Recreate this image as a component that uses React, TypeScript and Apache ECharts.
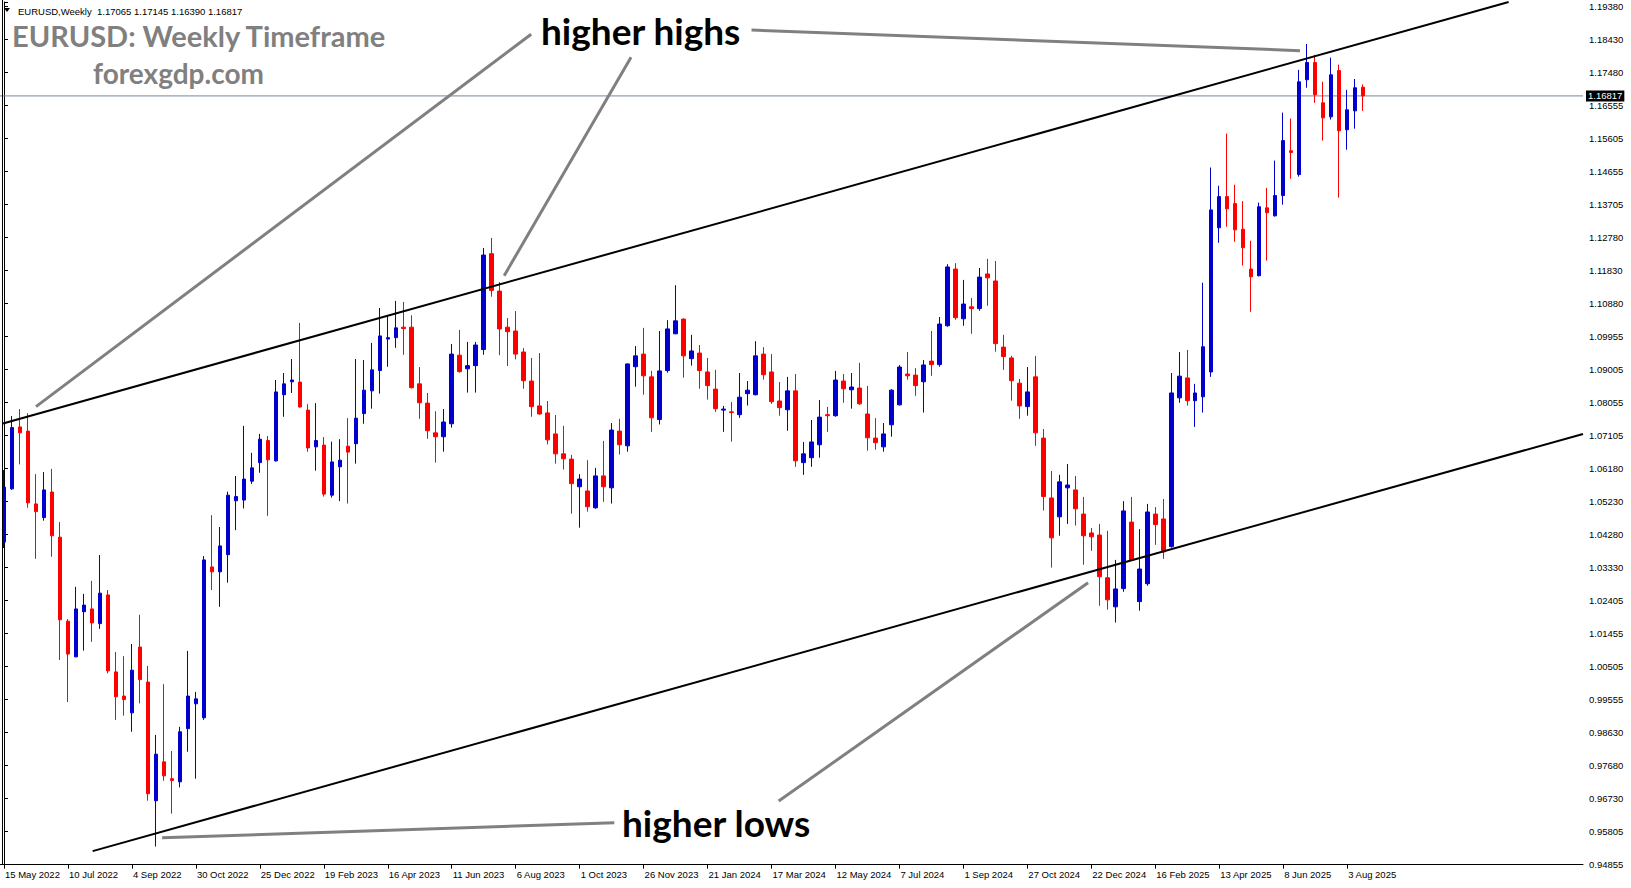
import React, { useEffect, useRef } from 'react';
import * as echarts from 'echarts';

// Weekly OHLC values (index 0 = week of 15 May 2022)
const weeklyOpen = [
  1.0407, 1.0559, 1.0736, 1.0724, 1.0516, 1.0477, 1.0550, 1.0421, 1.0181, 1.0079,
  1.0208, 1.0216, 1.0174, 1.0256, 1.0036, 0.9967, 0.9919, 1.0107, 1.0007, 0.9668,
  0.9779, 0.9731, 0.9722, 0.9874, 0.9945, 0.9905, 1.0336, 1.0322, 1.0371, 1.0525,
  1.0527, 1.0581, 1.0634, 1.0697, 1.0639, 1.0828, 1.0865, 1.0864, 1.0784, 1.0679,
  1.0684, 1.0541, 1.0622, 1.0681, 1.0688, 1.0774, 1.0839, 1.0897, 1.0987, 1.0991,
  1.1021, 1.1021, 1.0859, 1.0804, 1.0719, 1.0708, 1.0745, 1.0941, 1.0902, 1.0911,
  1.0957, 1.1231, 1.1124, 1.1021, 1.1010, 1.0950, 1.0867, 1.0796, 1.0776, 1.0716,
  1.0659, 1.0644, 1.0565, 1.0553, 1.0505, 1.0596, 1.0562, 1.0724, 1.0682, 1.0908,
  1.0944, 1.0879, 1.0757, 1.0897, 1.1002, 1.1044, 1.0931, 1.0947, 1.0893, 1.0844,
  1.0784, 1.0779, 1.0771, 1.0831, 1.0828, 1.0944, 1.0893, 1.0810, 1.0785, 1.0839,
  1.0634, 1.0648, 1.0685, 1.0771, 1.0768, 1.0867, 1.0842, 1.0847, 1.0773, 1.0704,
  1.0679, 1.0742, 1.0799, 1.0887, 1.0884, 1.0865, 1.0924, 1.0914, 1.1025, 1.1187,
  1.1045, 1.1079, 1.1074, 1.1173, 1.1153, 1.0964, 1.0933, 1.0861, 1.0794, 1.0879,
  1.0704, 1.0533, 1.0479, 1.0562, 1.0556, 1.0487, 1.0433, 1.0427, 1.0305, 1.0222,
  1.0274, 1.0464, 1.0237, 1.0288, 1.0487, 1.0473, 1.0394, 1.0819, 1.0876, 1.0811,
  1.0822, 1.0893, 1.1305, 1.1394, 1.1374, 1.1301, 1.1187, 1.1168, 1.1362, 1.1339,
  1.1397, 1.1525, 1.1457, 1.1728, 1.1777, 1.1662, 1.1622, 1.1754, 1.1585, 1.1639,
  1.17065,
];
const weeklyClose = [
  1.0564, 1.0734, 1.0719, 1.0519, 1.0494, 1.0556, 1.0425, 1.0185, 1.0087, 1.0216,
  1.0227, 1.0176, 1.0261, 1.0039, 0.9965, 0.9957, 1.0041, 1.0014, 0.9688, 0.9801,
  0.9739, 0.9726, 0.9865, 0.9967, 0.9959, 1.0356, 1.0322, 1.0396, 1.0541, 1.0537,
  1.0587, 1.0619, 1.0701, 1.0642, 1.0836, 1.0859, 1.0870, 1.0793, 1.0676, 1.0697,
  1.0544, 1.0636, 1.0641, 1.0664, 1.0761, 1.0841, 1.0899, 1.0996, 1.0991, 1.1019,
  1.1017, 1.0848, 1.0805, 1.0725, 1.0708, 1.0750, 1.0944, 1.0894, 1.0911, 1.0970,
  1.1227, 1.1126, 1.1016, 1.1008, 1.0944, 1.0868, 1.0794, 1.0773, 1.0699, 1.0659,
  1.0645, 1.0574, 1.0587, 1.0508, 1.0596, 1.0565, 1.0727, 1.0685, 1.0916, 1.0939,
  1.0882, 1.0762, 1.0896, 1.1016, 1.1039, 1.0939, 1.0953, 1.0897, 1.0854, 1.0788,
  1.0787, 1.0777, 1.0821, 1.0841, 1.0939, 1.0885, 1.0808, 1.0791, 1.0839, 1.0639,
  1.0659, 1.0693, 1.0764, 1.0768, 1.0870, 1.0845, 1.0850, 1.0802, 1.0705, 1.0691,
  1.0716, 1.0841, 1.0907, 1.0882, 1.0854, 1.0913, 1.0914, 1.1030, 1.1193, 1.1048,
  1.1087, 1.1074, 1.1164, 1.1162, 1.0974, 1.0937, 1.0868, 1.0796, 1.0836, 1.0719,
  1.0537, 1.0419, 1.0579, 1.0570, 1.0502, 1.0425, 1.0422, 1.0308, 1.0242, 1.0273,
  1.0496, 1.0356, 1.0330, 1.0493, 1.0457, 1.0379, 1.0833, 1.0881, 1.0811, 1.0833,
  1.0965, 1.1356, 1.1394, 1.1359, 1.1299, 1.1248, 1.1165, 1.1365, 1.1348, 1.1397,
  1.1554, 1.1520, 1.1722, 1.1777, 1.1685, 1.1619, 1.1742, 1.1582, 1.1642, 1.1705,
  1.16817,
];
const weeklyLow = [
  1.0390, 1.0556, 1.0629, 1.0505, 1.0359, 1.0468, 1.0365, 1.0070, 0.9950, 1.0078,
  1.0097, 1.0122, 1.0159, 1.0032, 0.9899, 0.9911, 0.9865, 0.9946, 0.9668, 0.9537,
  0.9725, 0.9631, 0.9706, 0.9808, 0.9731, 0.9899, 1.0270, 1.0222, 1.0291, 1.0441,
  1.0503, 1.0573, 1.0605, 1.0482, 1.0637, 1.0765, 1.0833, 1.0791, 1.0665, 1.0611,
  1.0537, 1.0534, 1.0524, 1.0517, 1.0631, 1.0745, 1.0788, 1.0831, 1.0908, 1.0962,
  1.0942, 1.0846, 1.0759, 1.0702, 1.0634, 1.0665, 1.0734, 1.0891, 1.0834, 1.0834,
  1.0942, 1.1108, 1.0941, 1.0910, 1.0929, 1.0845, 1.0765, 1.0771, 1.0686, 1.0631,
  1.0614, 1.0488, 1.0448, 1.0494, 1.0502, 1.0522, 1.0517, 1.0657, 1.0665, 1.0851,
  1.0828, 1.0722, 1.0743, 1.0891, 1.1001, 1.0877, 1.0911, 1.0845, 1.0814, 1.0779,
  1.0722, 1.0694, 1.0762, 1.0797, 1.0826, 1.0871, 1.0802, 1.0768, 1.0725, 1.0622,
  1.0599, 1.0622, 1.0648, 1.0722, 1.0765, 1.0805, 1.0788, 1.0799, 1.0668, 1.0671,
  1.0665, 1.0708, 1.0797, 1.0871, 1.0825, 1.0777, 1.0882, 1.0908, 1.1022, 1.1042,
  1.1025, 1.1002, 1.1068, 1.1082, 1.0951, 1.0899, 1.0811, 1.0759, 1.0768, 1.0682,
  1.0497, 1.0334, 1.0425, 1.0459, 1.0454, 1.0342, 1.0382, 1.0225, 1.0214, 1.0177,
  1.0265, 1.0353, 1.0211, 1.0282, 1.0399, 1.0359, 1.0391, 1.0805, 1.0797, 1.0736,
  1.0777, 1.0879, 1.1262, 1.1308, 1.1265, 1.1197, 1.1065, 1.1166, 1.1211, 1.1337,
  1.1371, 1.1445, 1.1451, 1.1705, 1.1662, 1.1554, 1.1614, 1.1391, 1.1528, 1.1588,
  1.16390,
];
const weeklyHigh = [
  1.0613, 1.0767, 1.0787, 1.0775, 1.0601, 1.0607, 1.0616, 1.0464, 1.0187, 1.0279,
  1.0259, 1.0296, 1.0370, 1.0270, 1.0093, 1.0081, 1.0116, 1.0199, 1.0053, 0.9856,
  1.0001, 0.9810, 0.9879, 1.0096, 0.9979, 1.0367, 1.0484, 1.0450, 1.0551, 1.0596,
  1.0739, 1.0662, 1.0716, 1.0710, 1.0870, 1.0890, 1.0930, 1.1033, 1.0801, 1.0804,
  1.0707, 1.0694, 1.0701, 1.0761, 1.0930, 1.0927, 1.0976, 1.1076, 1.1054, 1.1096,
  1.1093, 1.1055, 1.0907, 1.0833, 1.0781, 1.0787, 1.0973, 1.1013, 1.0979, 1.0979,
  1.1247, 1.1276, 1.1150, 1.1047, 1.1067, 1.0961, 1.0933, 1.0947, 1.0810, 1.0770,
  1.0739, 1.0656, 1.0601, 1.0641, 1.0619, 1.0696, 1.0747, 1.0759, 1.0917, 1.0967,
  1.1019, 1.0896, 1.1010, 1.1041, 1.1141, 1.1046, 1.0999, 1.0970, 1.0933, 1.0899,
  1.0796, 1.0807, 1.0890, 1.0867, 1.0981, 1.0964, 1.0944, 1.0864, 1.0879, 1.0887,
  1.0693, 1.0756, 1.0813, 1.0793, 1.0896, 1.0887, 1.0890, 1.0919, 1.0853, 1.0761,
  1.0747, 1.0844, 1.0913, 1.0950, 1.0904, 1.0927, 1.1010, 1.1050, 1.1201, 1.1204,
  1.1156, 1.1104, 1.1190, 1.1216, 1.1210, 1.0999, 1.0939, 1.0873, 1.0907, 1.0939,
  1.0730, 1.0610, 1.0599, 1.0630, 1.0596, 1.0536, 1.0447, 1.0459, 1.0439, 1.0356,
  1.0524, 1.0536, 1.0444, 1.0516, 1.0507, 1.0530, 1.0890, 1.0950, 1.0956, 1.0859,
  1.1148, 1.1477, 1.1425, 1.1574, 1.1428, 1.1381, 1.1268, 1.1377, 1.1419, 1.1497,
  1.1634, 1.1617, 1.1756, 1.1830, 1.1799, 1.1722, 1.1791, 1.1771, 1.1699, 1.1730,
  1.17145,
];

const xTickLabels = [
  '15 May 2022', '10 Jul 2022', '4 Sep 2022', '30 Oct 2022', '25 Dec 2022', '19 Feb 2023',
  '16 Apr 2023', '11 Jun 2023', '6 Aug 2023', '1 Oct 2023', '26 Nov 2023', '21 Jan 2024',
  '17 Mar 2024', '12 May 2024', '7 Jul 2024', '1 Sep 2024', '27 Oct 2024', '22 Dec 2024',
  '16 Feb 2025', '13 Apr 2025', '8 Jun 2025', '3 Aug 2025',
];
const yTickLabels = [
  '0.94855', '0.95805', '0.96730', '0.97680', '0.98630', '0.99555', '1.00505', '1.01455',
  '1.02405', '1.03330', '1.04280', '1.05230', '1.06180', '1.07105', '1.08055', '1.09005',
  '1.09955', '1.10880', '1.11830', '1.12780', '1.13705', '1.14655', '1.15605', '1.16555',
  '1.17480', '1.18430', '1.19380',
];

// Channel lines and pointer lines in [week index, price]
const upperChannel = [[-0.125, 1.0746], [188.2, 1.1950]];
const lowerChannel = [[11.09, 0.9524], [197.5, 1.0716]];
const pointerHighs1 = [[65.94, 1.1858], [4.0, 1.0794]];
const pointerHighs2 = [[78.43, 1.1792], [62.56, 1.1168]];
const pointerHighs3 = [[93.5, 1.1870], [162.1, 1.1811]];
const pointerLows1 = [[76.34, 0.9605], [19.78, 0.9562]];
const pointerLows2 = [[96.9, 0.9667], [135.6, 1.0291]];

const currentPrice = 1.16817;
const headerText = 'EURUSD,Weekly  1.17065 1.17145 1.16390 1.16817';

const TOTAL_WEEKS = 198;
const Y_MIN = 0.94855;
const Y_MAX = 1.195;
const Y_STEP = (1.1938 - 0.94855) / 26;

const MONTHS = ['Jan', 'Feb', 'Mar', 'Apr', 'May', 'Jun', 'Jul', 'Aug', 'Sep', 'Oct', 'Nov', 'Dec'];
function weekCategories(): string[] {
  const out: string[] = [];
  const start = Date.UTC(2022, 4, 15);
  for (let i = 0; i < TOTAL_WEEKS; i++) {
    const d = new Date(start + i * 7 * 86400000);
    out.push(`${d.getUTCDate()} ${MONTHS[d.getUTCMonth()]} ${d.getUTCFullYear()}`);
  }
  return out;
}

const BLUE = '#0000CD';
const RED = '#FF0000';
const GRAY = '#808080';
const AXIS_FONT = '"Liberation Sans", Arial, sans-serif';
const BIG_FONT = 'Lato, "Open Sans", sans-serif';

export default function App() {
  const ref = useRef<HTMLDivElement>(null);

  useEffect(() => {
    if (!ref.current) return;
    const chart = echarts.init(ref.current, undefined, { renderer: 'svg' });
    const candles = weeklyOpen.map((o, i) => [o, weeklyClose[i], weeklyLow[i], weeklyHigh[i]]);
    const showTick = (idx: number) => idx % 8 === 0 && idx <= 168;

    const lineSeries = (data: number[][], color: string, width: number) => ({
      type: 'line',
      xAxisIndex: 1,
      yAxisIndex: 0,
      data,
      symbol: 'none',
      showSymbol: false,
      silent: true,
      lineStyle: { color, width },
      z: 5,
    });

    chart.setOption({
      animation: false,
      backgroundColor: '#ffffff',
      grid: { left: -1, right: 48, top: 2, bottom: 23.4, containLabel: false },
      xAxis: [
        {
          type: 'category',
          data: weekCategories(),
          boundaryGap: true,
          axisLine: { show: true, lineStyle: { color: '#000', width: 1 } },
          axisTick: {
            show: true,
            alignWithLabel: true,
            interval: (idx: number) => showTick(idx),
            length: 4,
            lineStyle: { color: '#000' },
          },
          axisLabel: {
            interval: (idx: number) => showTick(idx),
            formatter: (_v: string, idx: number) => (showTick(idx) ? xTickLabels[idx / 8] ?? '' : ''),
            align: 'left',
            margin: 5,
            padding: [0, 0, 0, 1],
            fontSize: 9.5,
            fontFamily: AXIS_FONT,
            color: '#000',
          },
          splitLine: { show: false },
        },
        { type: 'value', min: -0.5, max: TOTAL_WEEKS - 0.5, show: false },
      ],
      yAxis: {
        type: 'value',
        position: 'right',
        min: Y_MIN,
        max: Y_MAX,
        interval: Y_STEP,
        axisLine: { show: true, lineStyle: { color: '#000', width: 1 } },
        axisTick: { show: true, length: 4, lineStyle: { color: '#000' } },
        axisLabel: {
          margin: 6,
          fontSize: 9.5,
          fontFamily: AXIS_FONT,
          color: '#000',
          formatter: (v: number) => {
            const k = Math.round((v - Y_MIN) / Y_STEP);
            return Math.abs(v - (Y_MIN + k * Y_STEP)) < 1e-6 && yTickLabels[k] ? yTickLabels[k] : '';
          },
        },
        splitLine: { show: false },
      },
      series: [
        {
          type: 'line',
          xAxisIndex: 1,
          yAxisIndex: 0,
          data: [[-0.5, currentPrice], [TOTAL_WEEKS - 0.5, currentPrice]],
          symbol: 'none',
          showSymbol: false,
          silent: true,
          lineStyle: { color: '#778899', width: 1 },
          endLabel: {
            show: true,
            distance: 3,
            formatter: currentPrice.toFixed(5),
            backgroundColor: '#000',
            color: '#fff',
            padding: [1, 2, 0, 2],
            fontSize: 9.5,
            fontFamily: AXIS_FONT,
          },
          z: 2,
        },
        {
          type: 'candlestick',
          xAxisIndex: 0,
          yAxisIndex: 0,
          data: candles,
          barWidth: 4,
          itemStyle: {
            color: BLUE,
            color0: RED,
            borderColor: BLUE,
            borderColor0: RED,
            borderWidth: 1,
          },
          z: 3,
        },
        lineSeries(upperChannel, '#000', 2),
        lineSeries(lowerChannel, '#000', 2),
        lineSeries(pointerHighs1, GRAY, 3),
        lineSeries(pointerHighs2, GRAY, 3),
        lineSeries(pointerHighs3, GRAY, 3),
        lineSeries(pointerLows1, GRAY, 3),
        lineSeries(pointerLows2, GRAY, 3),
      ],
      graphic: [
        { type: 'line', z: 50, shape: { x1: 2.5, y1: 0, x2: 2.5, y2: 865 }, style: { stroke: '#000', lineWidth: 1 } },
        { type: 'polygon', z: 50, shape: { points: [[4, 8], [10, 8], [7, 12]] }, style: { fill: '#000' } },
        { type: 'text', z: 50, x: 18, y: 11, style: { text: headerText, fontSize: 9.5, fontFamily: AXIS_FONT, fill: '#000', verticalAlign: 'middle' } },
        { type: 'text', z: 50, x: 12, y: 35, style: { text: 'EURUSD: Weekly Timeframe', fontSize: 29, fontWeight: 'bold', fontFamily: BIG_FONT, fill: GRAY, verticalAlign: 'middle' } },
        { type: 'text', z: 50, x: 93, y: 73, style: { text: 'forexgdp.com', fontSize: 28, fontWeight: 'bold', fontFamily: BIG_FONT, fill: GRAY, verticalAlign: 'middle' } },
        { type: 'text', z: 50, x: 541, y: 30, style: { text: 'higher highs', fontSize: 37, fontWeight: 'bold', fontFamily: BIG_FONT, fill: '#000', verticalAlign: 'middle' } },
        { type: 'text', z: 50, x: 622, y: 822, style: { text: 'higher lows', fontSize: 37, fontWeight: 'bold', fontFamily: BIG_FONT, fill: '#000', verticalAlign: 'middle' } },
      ],
    });

    return () => chart.dispose();
  }, []);

  return (
    <div
      ref={ref}
      style={{ position: 'absolute', left: 0, top: 0, width: 1631, height: 888, background: '#fff' }}
    />
  );
}
